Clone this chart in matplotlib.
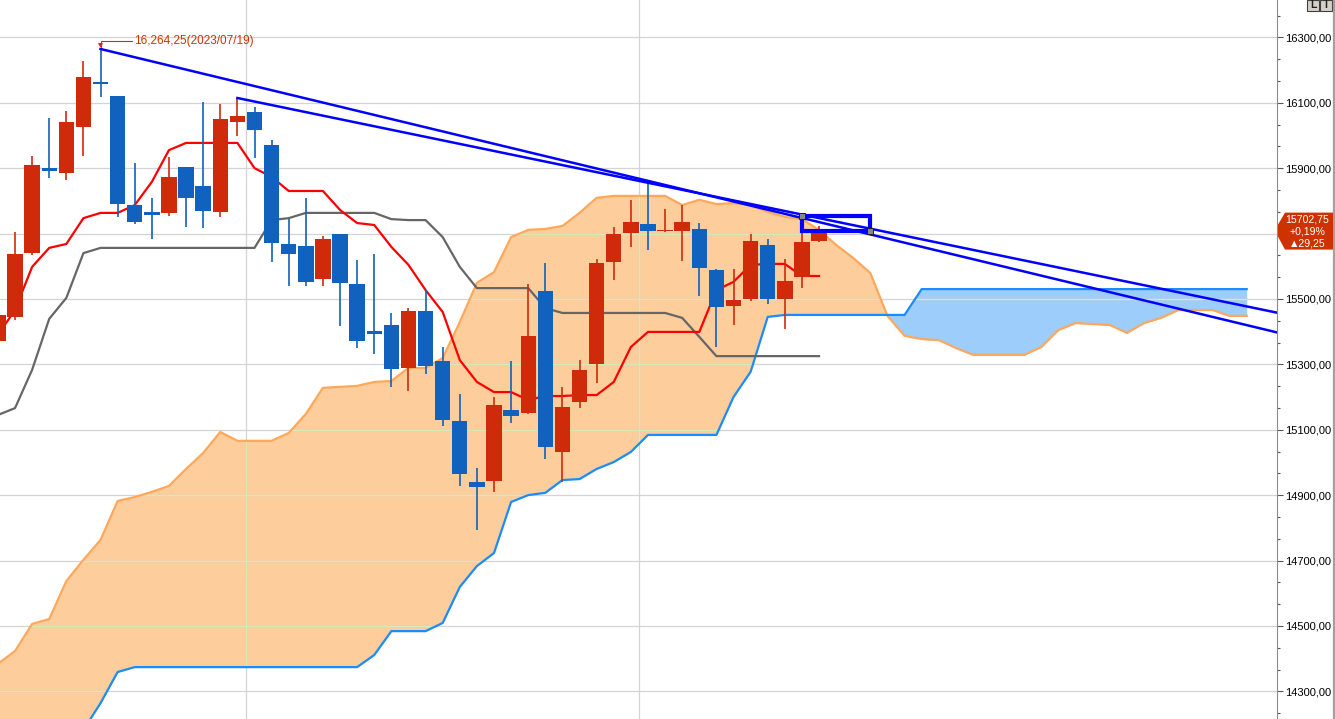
import numpy as np
import matplotlib.pyplot as plt
from matplotlib.patches import Rectangle, Polygon
from matplotlib.path import Path
from matplotlib.transforms import IdentityTransform
from matplotlib.ticker import FuncFormatter, FixedLocator

plt.rcParams['font.family'] = ['Liberation Sans', 'DejaVu Sans']

# 일봉 OHLC (index 6 = 2023/07/19 고점)
opens = [15371, 15445, 15640, 15900, 15885, 16026, 16163, 16121, 15787, 15766,
         15763, 15903, 15845, 15766, 16041, 16072, 15971, 15668, 15662, 15561,
         15699, 15546, 15402, 15420, 15289, 15463, 15310, 15127, 14940, 14943,
         15160, 15151, 15524, 15032, 15185, 15301, 15613, 15702, 15729, 15708,
         15708, 15714, 15588, 15478, 15500, 15665, 15500, 15567, 15676]
highs = [15481, 15705, 15937, 16053, 16075, 16228, 16264.25, 16121, 15916, 15809,
         15934, 15903, 16102, 16096, 16114, 16087, 15986, 15744, 15809, 15692,
         15699, 15619, 15637, 15457, 15472, 15527, 15353, 15209, 14983, 15200,
         15310, 15546, 15610, 15231, 15313, 15622, 15720, 15803, 15855, 15775,
         15787, 15732, 15592, 15592, 15699, 15683, 15622, 15701, 15723]
lows = [15350, 15436, 15634, 15870, 15864, 15937, 16117, 15751, 15729, 15683,
        15754, 15720, 15717, 15751, 15998, 15931, 15613, 15540, 15540, 15540,
        15417, 15350, 15332, 15231, 15218, 15270, 15111, 14928, 14793, 14910,
        15121, 15148, 15010, 14940, 15166, 15243, 15558, 15659, 15650, 15705,
        15616, 15509, 15353, 15420, 15494, 15484, 15408, 15533, 15673]
closes = [15451, 15637, 15910, 15891, 16041, 16179, 16157, 15790, 15735, 15757,
          15873, 15809, 15769, 16050, 16059, 16017, 15671, 15637, 15552, 15683,
          15549, 15371, 15393, 15286, 15463, 15295, 15130, 14965, 14925, 15176,
          15142, 15387, 15047, 15169, 15283, 15610, 15699, 15735, 15708, 15711,
          15735, 15595, 15475, 15497, 15677, 15500, 15555, 15673.5, 15702.75]

# 일목균형표
tenkan = [15390, 15466, 15598, 15656, 15668, 15747, 15763, 15763, 15787, 15858,
          15955, 15977, 15977, 15977, 15977, 15900, 15873, 15830, 15830, 15830,
          15772, 15732, 15726, 15659, 15604, 15527, 15460, 15313, 15246, 15215,
          15215, 15191, 15203, 15203, 15206, 15206, 15246, 15353, 15399, 15399,
          15399, 15399, 15527, 15552, 15604, 15607, 15607, 15570, 15570]
kijun = [15145, 15166, 15283, 15439, 15503, 15640, 15656, 15656, 15656, 15656,
         15656, 15656, 15656, 15656, 15656, 15656, 15741, 15747, 15763, 15763,
         15763, 15763, 15763, 15744, 15741, 15741, 15689, 15598, 15533, 15533,
         15533, 15533, 15472, 15457, 15457, 15457, 15457, 15457, 15457, 15457,
         15442, 15384, 15325, 15325, 15325, 15325, 15325, 15325, 15325]
span_a = [14384, 14423, 14506, 14521, 14637, 14702, 14763, 14882, 14894, 14910,
          14928, 14980, 15029, 15093, 15066, 15066, 15066, 15090, 15148, 15228,
          15231, 15234, 15246, 15249, 15289, 15289, 15319, 15429, 15549, 15582,
          15689, 15711, 15714, 15723, 15763, 15809, 15815, 15815, 15815, 15815,
          15787, 15803, 15790, 15793, 15787, 15766, 15751, 15744, 15711, 15665,
          15625, 15579, 15448, 15387, 15377, 15374, 15350, 15329, 15329, 15329,
          15329, 15353, 15405, 15426, 15423, 15420, 15396, 15426, 15442, 15466,
          15466, 15466, 15448, 15448]
span_b = [13998, 14029, 14060, 14090, 14121, 14182, 14264, 14359, 14374, 14374,
          14374, 14374, 14374, 14374, 14374, 14374, 14374, 14374, 14374, 14374,
          14374, 14374, 14411, 14484, 14484, 14484, 14509, 14619, 14683, 14723,
          14879, 14900, 14907, 14946, 14949, 14980, 15001, 15032, 15084, 15084,
          15084, 15084, 15084, 15200, 15277, 15445, 15451, 15451, 15451, 15451,
          15451, 15451, 15451, 15451, 15530, 15530, 15530, 15530, 15530, 15530,
          15530, 15530, 15530, 15530, 15530, 15530, 15530, 15530, 15530, 15530,
          15530, 15530, 15530, 15530]

high_idx = 6
high_label = "16,264,25(2023/07/19)"
last_close = 15702.75
tag_lines = ["15702,75", "+0,19%", "▲29,25"]

# 추세선 (시작점, 통과점)
trend_lines = [((6, 16264.25), (48, 15734.9)),
               ((14, 16114.4), (48, 15747.1))]
box = (47, 15707.6, 51, 15753.5)
month_breaks = [14.5, 37.5]
y_levels = list(range(14300, 16301, 200))
hidden_level = 15700  # 현재가 태그에 가려지는 눈금

W, H = 1335, 719
fig = plt.figure(figsize=(W / 100, H / 100), dpi=100)
ax = fig.add_axes([0, 0, 1277 / W, 1])
ax.set_xlim(0.123, 74.77)
ax.set_ylim(14215.3, 16414.07)

# 구름대
xc = np.arange(len(span_a))
a = np.array(span_a, float)
b = np.array(span_b, float)
fill_up = ax.fill_between(xc, a, b, where=a >= b, interpolate=True, color='#fdcd9b', lw=0, zorder=0)
fill_dn = ax.fill_between(xc, a, b, where=a < b, interpolate=True, color='#9dcdfa', lw=0, zorder=0)

# 격자
for lv in y_levels:
    ax.axhline(lv, color='#d4d4d4', lw=0.9, zorder=1)
for mb in month_breaks:
    ax.axvline(mb, color='#d4d4d4', lw=0.9, zorder=1)
for coll in (fill_up, fill_dn):
    clip = Path.make_compound_path(*coll.get_paths())
    for lv in y_levels:
        ln = ax.axhline(lv, color='#d6eab8', lw=0.9, zorder=1.1)
        ln.set_clip_path(clip, ax.transData)
    for mb in month_breaks:
        ln = ax.axvline(mb, color='#d6eab8', lw=0.9, zorder=1.1)
        ln.set_clip_path(clip, ax.transData)

ax.plot(xc, a, color='#ffa75a', lw=1.6, zorder=2)
ax.plot(xc, b, color='#1a8cff', lw=1.6, zorder=2)

xk = np.arange(len(kijun))
ax.plot(xk, kijun, color='#666666', lw=1.6, zorder=3)
ax.plot(xk, tenkan, color='#ff0000', lw=1.6, zorder=3)

# 캔들
o = np.array(opens, float)
c = np.array(closes, float)
x = np.arange(len(o))
cols = np.where(c >= o, '#cf2b0b', '#1162be')
ax.vlines(x, lows, highs, colors=cols, lw=1.2, zorder=4)
ax.bar(x, np.maximum(np.abs(c - o), 3), bottom=np.minimum(o, c), width=0.9,
       color=cols, lw=0, zorder=4)

# 고점 표시
ax.annotate(high_label, xy=(high_idx, highs[high_idx]), xytext=(34, 8),
            textcoords='offset pixels', va='center', ha='left', fontsize=8.5,
            color='#cc3300', zorder=7,
            arrowprops=dict(arrowstyle='-|>,head_length=0.25,head_width=0.15',
                            color='#cc3300', lw=0.8, shrinkA=0, shrinkB=1,
                            connectionstyle='angle,angleA=0,angleB=90,rad=0'))

# 추세선
for (x0, y0), (x1, y1) in trend_lines:
    x_end = 80
    y_end = y0 + (y1 - y0) / (x1 - x0) * (x_end - x0)
    ax.plot([x0, x_end], [y0, y_end], color='#0000ff', lw=1.8, zorder=5)

bx0, by0, bx1, by1 = box
ax.add_patch(Rectangle((bx0, by0), bx1 - bx0, by1 - by0, fill=False,
                       ec='#0000ff', lw=3, zorder=6))
ax.plot([bx0, bx1], [by1, by0], ls='none', marker='s', ms=4.5,
        mfc='#888888', mec='#202020', mew=0.7, zorder=7)

# 축
for s in ('left', 'top', 'bottom'):
    ax.spines[s].set_visible(False)
ax.spines['right'].set_color('#8c8c8c')
ax.set_xticks([])
ax.yaxis.tick_right()
ax.set_yticks(y_levels)
ax.yaxis.set_minor_locator(FixedLocator(np.arange(14100, 16500, 200 / 3)))
ax.yaxis.set_major_formatter(FuncFormatter(
    lambda v, p: '' if abs(v - hidden_level) < 1 else f"{v:.2f}".replace('.', ',')))
ax.tick_params(axis='y', which='major', direction='out', length=4, width=0.8,
               color='#555555', labelsize=8, pad=1.5)
ax.tick_params(axis='y', which='minor', direction='out', length=2.5, width=0.8,
               color='#555555')

# 현재가 태그
fig.canvas.draw()
yc = ax.transData.transform((0, last_close))[1]
tag = Polygon([(1285, yc + 20), (1333, yc + 20), (1333, yc - 17), (1285, yc - 17),
               (1278, yc - 4), (1278, yc + 8)], closed=True, fc='#cc3300', ec='none',
              transform=IdentityTransform(), zorder=10)
fig.add_artist(tag)
for k, t in enumerate(tag_lines):
    fig.text(1307 / W, (yc + 13 - 11.8 * k) / H, t, color='white', fontsize=7.6,
             ha='center', va='center', zorder=11)

# 오른쪽 상단 버튼
for k, t in enumerate(['L', 'I']):
    bx = 1307 + 13 * k
    fig.add_artist(Rectangle((bx, H - 11), 12, 11, fc='#d4d0c8', ec='#404040',
                             lw=0.8, transform=IdentityTransform()))
    fig.text((bx + 6) / W, (H - 5.5) / H, t, fontsize=7.5, fontweight='bold',
             ha='center', va='center', color='#202020')
fig.add_artist(plt.Line2D([1333.5 / W, 1333.5 / W], [0, 1], color='#a0a0a0', lw=1.6,
                          transform=fig.transFigure))

fig.savefig('out.png', dpi=100)
